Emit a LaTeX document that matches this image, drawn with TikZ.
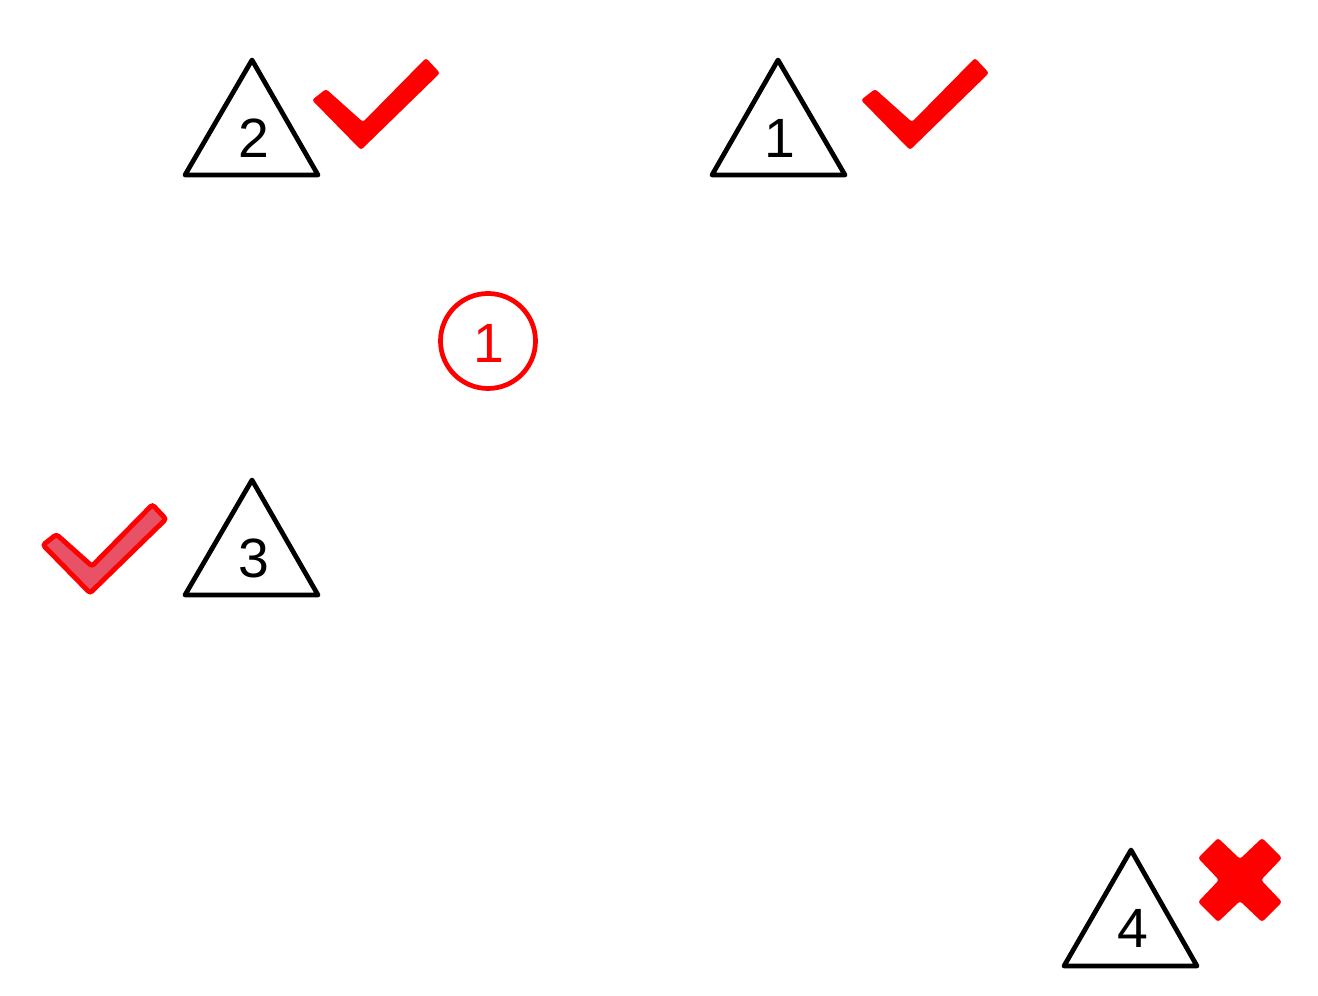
\documentclass[tikz,border=0pt]{standalone}
\usepackage{fontspec}
\setmainfont{Liberation Sans}
\usepackage{tikz}
\usepackage{xcolor}
\usetikzlibrary{positioning}
\definecolor{tickpink}{RGB}{232,82,102}

\begin{document}
\begin{tikzpicture}[x=0.02cm, y=0.02cm]
\tikzstyle{every node}+=[inner sep=0pt, font=\fontsize{31.5}{31.5}\selectfont]
\tikzstyle{tri}=[black, line width=2.7pt, line join=round]
\tikzstyle{tick}=[red, rounded corners=1.5pt]
\useasboundingbox (0,0) rectangle (1318,-996);
% triangles
\draw [tri] (252,-60) -- (318,-175) -- (185,-175) -- cycle;
\node (two) at (254,-138) {2};
\draw [tri] (778,-60) -- (845,-175) -- (712,-175) -- cycle;
\node (one) at (780,-138) {1};
\draw [tri] (252,-480) -- (318,-595) -- (185,-595) -- cycle;
\node (three) at (254,-558) {3};
\draw [tri] (1131,-850) -- (1197,-966) -- (1064,-966) -- cycle;
\node (four) at (1133,-928) {4};
% ticks
\fill [tick, shift={(312,-100)}] (0,0) -- (49,-50) -- (128,27) -- (114,42) -- (51,-22) -- (14,11) -- cycle;
\fill [tick, shift={(861,-100)}] (0,0) -- (49,-50) -- (128,27) -- (114,42) -- (51,-22) -- (14,11) -- cycle;
\filldraw [tick, fill=tickpink, line width=2.8pt, shift={(43,-545)}, scale=0.96] (0,0) -- (49,-50) -- (128,27) -- (114,42) -- (51,-22) -- (14,11) -- cycle;
% cross
\fill [tick, shift={(1240,-880)}] (-42,22) -- (-22,42) -- (0,21) -- (22,42) -- (42,22) -- (21,0) -- (42,-22) -- (22,-42) -- (0,-21) -- (-22,-42) -- (-42,-22) -- (-21,0) -- cycle;
% circled number
\draw [red, line width=2.7pt] (488,-341) circle (47.5);
\node [red] (mark) at (489,-343) {1};
\end{tikzpicture}
\end{document}
